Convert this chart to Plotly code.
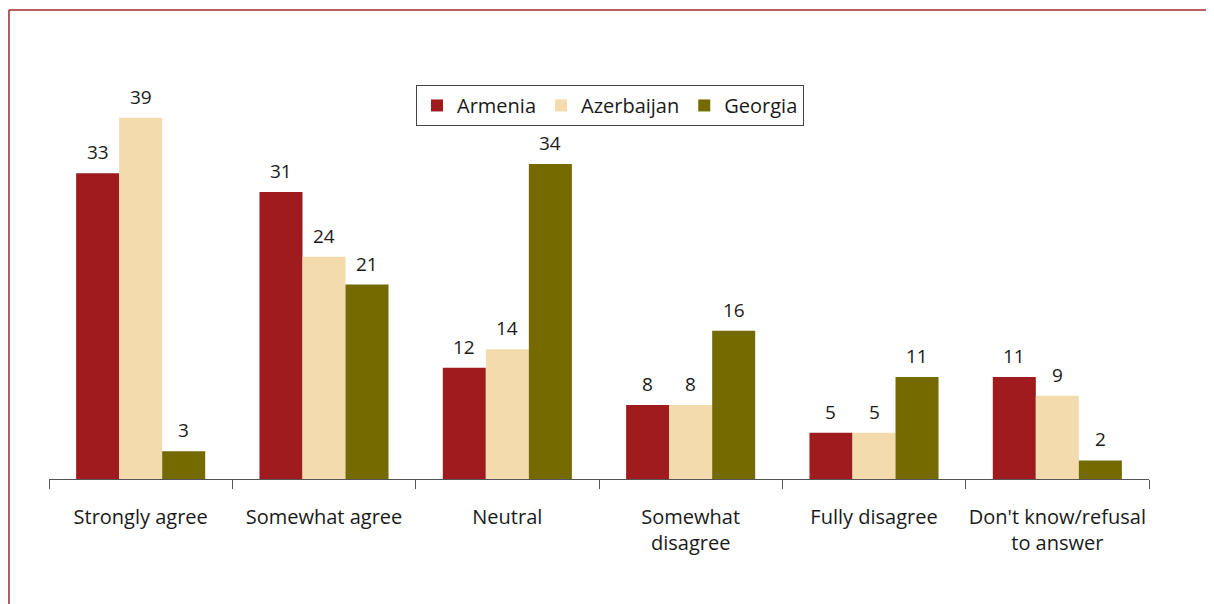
import plotly.graph_objects as go

categories = ["Strongly agree", "Somewhat agree", "Neutral", "Somewhat<br>disagree",
              "Fully disagree", "Don't know/refusal<br>to answer"]
armenia = [33, 31, 12, 8, 5, 11]
azerbaijan = [39, 24, 14, 8, 5, 9]
georgia = [3, 21, 34, 16, 11, 2]

series = [("Armenia", armenia, "#9f1b1e"),
          ("Azerbaijan", azerbaijan, "#f3dbad"),
          ("Georgia", georgia, "#746a00")]

FONT = "Open Sans"
W, H = 1206, 596
L, R, T, B = 41, 65, 82, 125
BARGAP = 0.296
plot_w = W - L - R
bar_px = plot_w / len(categories) * (1 - BARGAP) / len(series)

fig = go.Figure()
annotations = []
for i, (name, vals, col) in enumerate(series):
    fig.add_trace(go.Bar(
        name=name, x=categories, y=vals, marker_color=col, marker_line_width=0,
    ))
    for c, v in zip(categories, vals):
        annotations.append(dict(
            x=c, y=v, xref="x", yref="y", text=str(v), showarrow=False,
            xanchor="center", yanchor="bottom", xshift=(i - 1) * bar_px, yshift=6,
            font=dict(size=19, color="#1a1a1a", family=FONT),
        ))

fig.update_layout(
    width=W, height=H,
    margin=dict(l=L, r=R, t=T, b=B, autoexpand=False),
    paper_bgcolor="white", plot_bgcolor="white",
    barmode="group", bargap=BARGAP, bargroupgap=0,
    font=dict(family=FONT, size=18, color="#1a1a1a"),
    showlegend=True,
    legend=dict(orientation="h", x=0.51, xanchor="center", y=1.013, yanchor="top",
                bordercolor="#444", borderwidth=1, font=dict(size=20),
                itemwidth=30, tracegroupgap=0),
    xaxis=dict(showline=True, linecolor="#555", linewidth=1, ticks="outside",
               tickson="boundaries", ticklen=9, tickcolor="#555", tickangle=0,
               automargin=False,
               tickfont=dict(size=20), ticklabelstandoff=20, showgrid=False),
    yaxis=dict(range=[0, 42], visible=False, showgrid=False),
    annotations=annotations,
    shapes=[
        dict(type="line", xref="paper", yref="paper", x0=-0.0364, x1=1.5, y0=1.2055, y1=1.2055,
             line=dict(color="#a3292c", width=1.5)),
        dict(type="line", xref="paper", yref="paper", x0=-0.0364, x1=-0.0364, y0=1.2055, y1=-0.5,
             line=dict(color="#a3292c", width=1.5)),
    ],
)

fig.write_html("out.html")
